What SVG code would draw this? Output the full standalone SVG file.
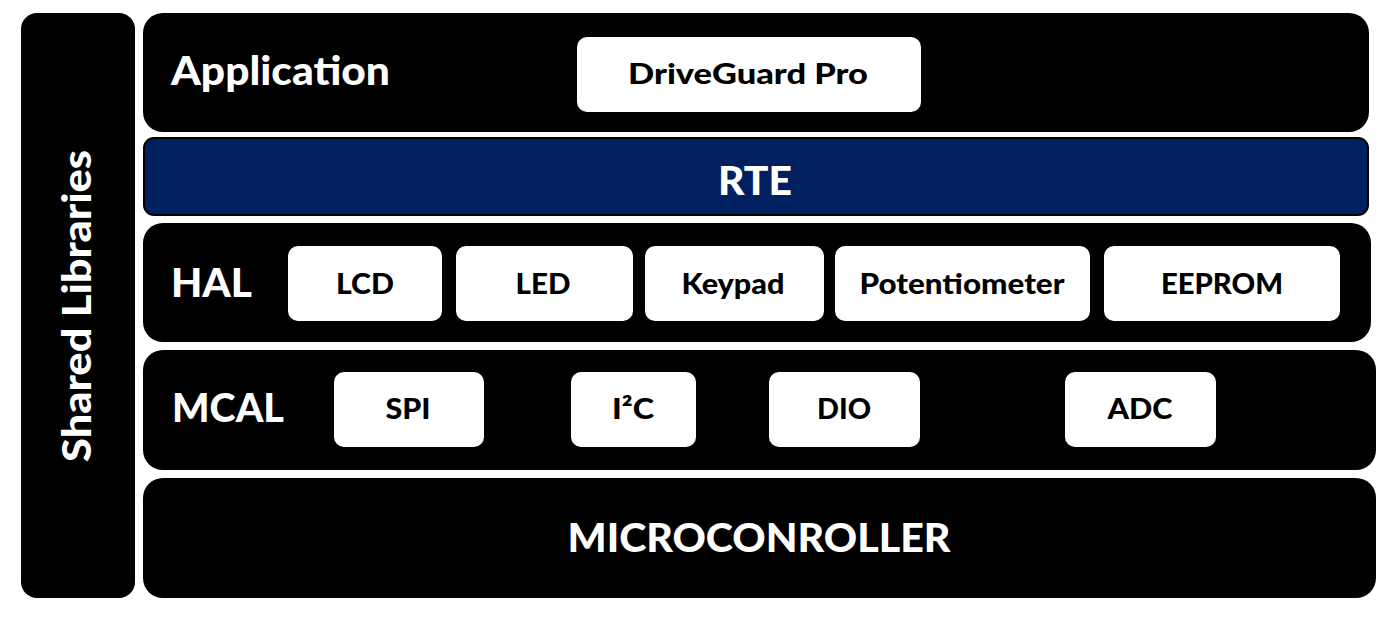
<svg xmlns="http://www.w3.org/2000/svg" width="1391" height="618" viewBox="0 0 1391 618">
<style>
.layer{fill:#000}
.box{fill:#fff}
.t{font-family:Lato,"Noto Sans",sans-serif;font-weight:900}
.lt{fill:#fff;font-size:39px}
.bt{fill:#000;font-size:29px;text-anchor:middle}
</style>
<rect width="1391" height="618" fill="#fff"/>
<g id="shared-libraries">
<rect class="layer" x="21" y="13" width="114" height="585" rx="16"/>
<text class="t lt" transform="translate(91,306) rotate(-90)" text-anchor="middle" font-size="38" textLength="312" lengthAdjust="spacingAndGlyphs">Shared Libraries</text>
</g>
<g id="application">
<rect class="layer" x="143" y="13" width="1226" height="119" rx="20"/>
<text class="t lt" x="171" y="85" textLength="219" lengthAdjust="spacingAndGlyphs">Application</text>
</g>
<g id="driveguard-pro">
<rect class="box" x="577" y="37" width="344" height="75" rx="10"/>
<text class="t bt" x="748" y="84" textLength="240" lengthAdjust="spacingAndGlyphs">DriveGuard Pro</text>
</g>
<g id="rte">
<rect x="144" y="138" width="1224" height="77" rx="10" fill="#002060" stroke="#000" stroke-width="2"/>
<text class="t" x="755" y="195" fill="#fff" font-size="40" text-anchor="middle" textLength="74" lengthAdjust="spacingAndGlyphs">RTE</text>
</g>
<g id="hal">
<rect class="layer" x="143" y="223" width="1228" height="119" rx="20"/>
<text class="t lt" x="171" y="297" textLength="81" lengthAdjust="spacingAndGlyphs">HAL</text>
</g>
<g id="lcd"><rect class="box" x="288" y="246" width="154" height="75" rx="10"/><text class="t bt" x="365" y="294" textLength="58" lengthAdjust="spacingAndGlyphs">LCD</text></g>
<g id="led"><rect class="box" x="456" y="246" width="177" height="75" rx="10"/><text class="t bt" x="543" y="294" textLength="55" lengthAdjust="spacingAndGlyphs">LED</text></g>
<g id="keypad"><rect class="box" x="645" y="246" width="179" height="75" rx="10"/><text class="t bt" x="733" y="294" textLength="103" lengthAdjust="spacingAndGlyphs">Keypad</text></g>
<g id="potentiometer"><rect class="box" x="835" y="246" width="255" height="75" rx="10"/><text class="t bt" x="962" y="294" textLength="205" lengthAdjust="spacingAndGlyphs">Potentiometer</text></g>
<g id="eeprom"><rect class="box" x="1104" y="246" width="236" height="75" rx="10"/><text class="t bt" x="1222" y="294" textLength="122" lengthAdjust="spacingAndGlyphs">EEPROM</text></g>
<g id="mcal">
<rect class="layer" x="143" y="350" width="1233" height="120" rx="20"/>
<text class="t lt" x="172" y="422" textLength="112" lengthAdjust="spacingAndGlyphs">MCAL</text>
</g>
<g id="spi"><rect class="box" x="334" y="372" width="150" height="75" rx="10"/><text class="t bt" x="408" y="419" textLength="45" lengthAdjust="spacingAndGlyphs">SPI</text></g>
<g id="i2c"><rect class="box" x="571" y="372" width="125" height="75" rx="10"/><text class="t bt" x="633" y="419" textLength="42" lengthAdjust="spacingAndGlyphs">I²C</text></g>
<g id="dio"><rect class="box" x="769" y="372" width="151" height="75" rx="10"/><text class="t bt" x="844" y="419" textLength="54" lengthAdjust="spacingAndGlyphs">DIO</text></g>
<g id="adc"><rect class="box" x="1065" y="372" width="151" height="75" rx="10"/><text class="t bt" x="1140" y="419" textLength="65" lengthAdjust="spacingAndGlyphs">ADC</text></g>
<g id="microcontroller">
<rect class="layer" x="143" y="478" width="1233" height="120" rx="20"/>
<text class="t lt" x="759" y="552" text-anchor="middle" textLength="383" lengthAdjust="spacingAndGlyphs">MICROCONROLLER</text>
</g>
<g id="connectors"></g>
</svg>
